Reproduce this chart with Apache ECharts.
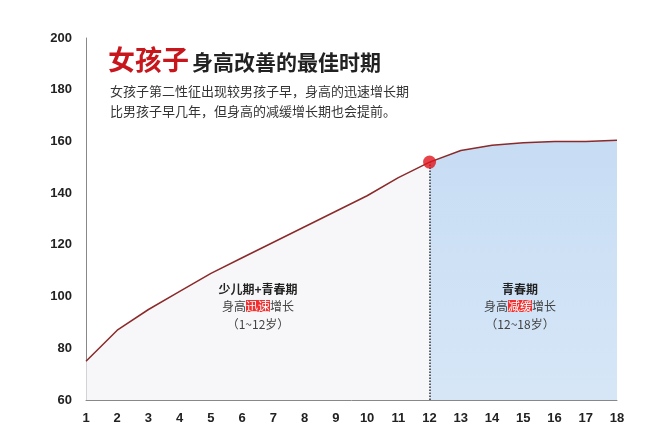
<!DOCTYPE html><html><head><meta charset="utf-8"><script src="https://cdn.jsdelivr.net/npm/echarts@6/dist/echarts.min.js"></script></head><body style="margin:0;background:#fff"><div id="c" style="width:650px;height:444px"></div><script>
const ages=['1','2','3','4','5','6','7','8','9','10','11','12','13','14','15','16','17','18'];
const heights=[75,87,95,102,109,115,121,127,133,139,146,152,156.5,158.5,159.5,160,160,160.5];
const yTicks=[60,200,20];
const L=heights.map((v,i)=>i<=11?v:null), R=heights.map((v,i)=>i>=11?v:null);
const F='"Noto Sans CJK SC"';
const rich={a:{fill:'#444',font:'12px '+F},b:{fill:'#fff',backgroundColor:'#f03030',font:'12px '+F}};
const c=echarts.init(document.getElementById('c'));
c.setOption({animation:false,
grid:{left:86,right:33,top:38,bottom:44},
xAxis:{type:'category',data:ages,boundaryGap:false,axisLine:{lineStyle:{color:'#888'}},axisTick:{show:false},axisLabel:{color:'#222',fontSize:13,fontWeight:'bold',fontFamily:'Arial',margin:12}},
yAxis:{type:'value',min:yTicks[0],max:yTicks[1],interval:yTicks[2],axisLine:{show:true,lineStyle:{color:'#888'}},splitLine:{show:false},axisLabel:{color:'#222',fontSize:13,fontWeight:'bold',fontFamily:'Arial',margin:14}},
graphic:{elements:[
{type:'text',x:108,y:46,z:100,style:{text:'女孩子',fill:'#c8161d',font:'bold 27px '+F}},
{type:'text',x:192,y:52,z:100,style:{text:'身高改善的最佳时期',fill:'#222',font:'bold 21px '+F}},
{type:'text',x:110,y:85,z:100,style:{text:'女孩子第二性征出现较男孩子早，身高的迅速增长期',fill:'#333',font:'13px '+F}},
{type:'text',x:110,y:105,z:100,style:{text:'比男孩子早几年，但身高的减缓增长期也会提前。',fill:'#333',font:'13px '+F}},
{type:'text',x:258,y:283,z:100,style:{text:'少儿期+青春期',fill:'#222',font:'bold 12px '+F,align:'center'}},
{type:'text',x:258,y:300,z:100,style:{rich:rich,text:'{a|身高}{b|迅速}{a|增长}',align:'center'}},
{type:'text',x:258,y:318,z:100,style:{text:'（1~12岁）',fill:'#444',font:'12px '+F,align:'center'}},
{type:'text',x:520,y:283,z:100,style:{text:'青春期',fill:'#222',font:'bold 12px '+F,align:'center'}},
{type:'text',x:520,y:300,z:100,style:{rich:rich,text:'{a|身高}{b|减缓}{a|增长}',align:'center'}},
{type:'text',x:520,y:318,z:100,style:{text:'（12~18岁）',fill:'#444',font:'12px '+F,align:'center'}}
]},
series:[
{type:'line',data:L,symbol:'none',lineStyle:{color:'#8b2a2a',width:1.5},areaStyle:{color:'#f3f3f6'}},
{type:'line',data:R,symbol:'none',lineStyle:{color:'#8b2a2a',width:1.5},areaStyle:{color:new echarts.graphic.LinearGradient(0,0,0,1,[{offset:0,color:'#aecdee'},{offset:1,color:'#c4dbf3'}])},
 markLine:{symbol:'none',silent:true,label:{show:false},lineStyle:{color:'#333',type:'dotted',width:1.5},data:[[{coord:['12',yTicks[0]]},{coord:['12',heights[11]]}]]}},
{type:'scatter',data:[['12',heights[11]]],symbolSize:13,itemStyle:{color:'#e0141e'},z:5}
]});
</script></body></html>
